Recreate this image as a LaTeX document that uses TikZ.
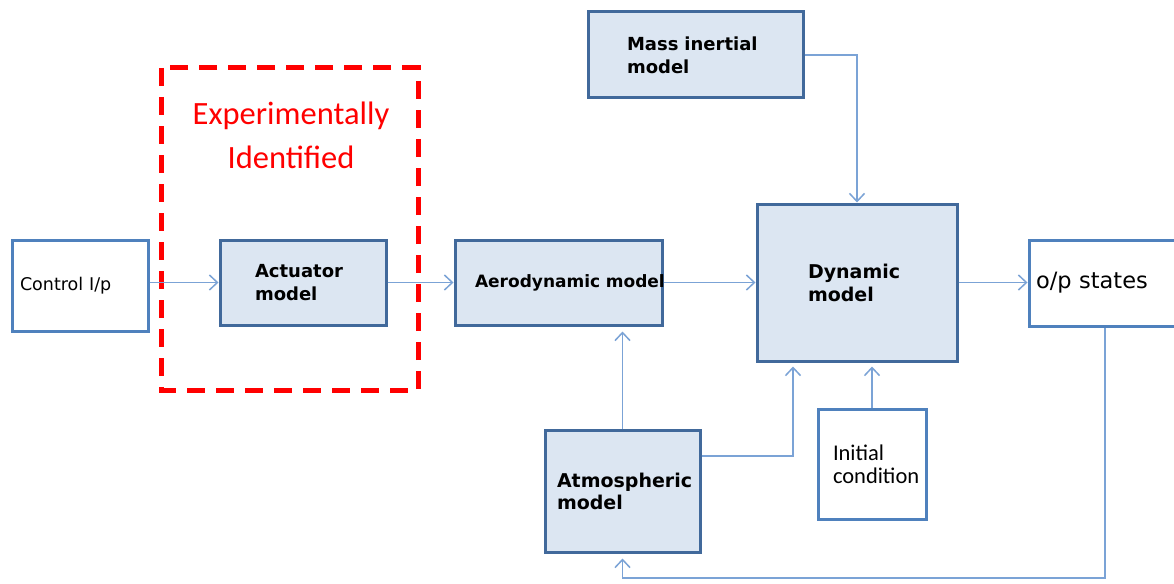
\documentclass[tikz,border=0pt]{standalone}
\usepackage{fontspec}
\setmainfont{DejaVu Sans}
\newfontfamily\calib{Carlito}
\usetikzlibrary{arrows.meta}

\definecolor{boxfill}{HTML}{DCE6F2}
\definecolor{boxline}{HTML}{41699B}
\definecolor{plainline}{HTML}{4F81BD}
\definecolor{flowline}{HTML}{7BA3D6}

\begin{document}
\begin{tikzpicture}[x=1pt,y=-1pt,
  model/.style={draw=boxline, fill=boxfill, line width=3pt, align=left, inner ysep=0pt,
    font=\bfseries\fontsize{18}{23}\selectfont},
  plain/.style={draw=plainline, fill=white, line width=3pt, align=left, inner ysep=0pt},
  flow/.style={draw=flowline, line width=1.5pt, -{Straight Barb[length=8pt,width=15pt]}}]
  \fill[white] (0,0) rectangle (1174,583);
  \useasboundingbox (0,0) rectangle (1174,583);

  % Experimentally identified part
  \draw[red, line width=5pt, dash pattern=on 18pt off 11pt] (161,68) rectangle (418,390);
  \node[text=red, align=center, font=\calib\fontsize{32.5}{44}\selectfont] (expid) at (291,135)
    {Experimentally\\Identified};

  % Blocks
  \node[plain, minimum width=136, minimum height=91, inner xsep=8, text width=120,
    font=\fontsize{17.5}{20}\selectfont] (ctrl) at (80,285.5) {Control I/p};
  \node[model, minimum width=166, minimum height=85, inner xsep=35, text width=96] (act) at (303,282.5)
    {Actuator\\model};
  \node[model, minimum width=207, minimum height=85, inner xsep=20, text width=167,
    font=\bfseries\fontsize{17}{20}\selectfont] (aero) at (558.5,282.5) {Aerodynamic~model};
  \node[model, minimum width=200, minimum height=157, inner xsep=51, text width=98,
    font=\bfseries\fontsize{19}{23}\selectfont] (dyn) at (857,282.5) {Dynamic\\model};
  \node[model, minimum width=215, minimum height=86, inner xsep=39, text width=137] (mass) at (695.5,55)
    {Mass inertial\\model};
  \node[plain, minimum width=152, minimum height=86, inner xsep=7, text width=138,
    font=\fontsize{22.5}{24}\selectfont] (ops) at (1105,283) {o/p states};
  \node[model, minimum width=155, minimum height=122, inner xsep=12, text width=131,
    font=\bfseries\fontsize{19}{22}\selectfont] (atm) at (622.5,491) {Atmospheric\\model};
  \node[plain, minimum width=108, minimum height=110, inner xsep=15, text width=78,
    font=\calib\fontsize{22.5}{23}\selectfont] (init) at (872,464) {Initial\\condition};

  % Connectors
  \draw[flow] (ctrl.east |- act.west) -- (act.west);
  \draw[flow] (act) -- (aero);
  \draw[flow] (aero) -- (dyn);
  \draw[flow] (dyn) -- (ops.west |- dyn);
  \draw[flow] (mass.east) -| (dyn.north);
  \draw[flow, shorten >=5pt] (atm.north) -- (atm.north |- aero.south);
  \draw[flow, shorten >=4pt] ([yshift=35pt]atm.east) -| ([xshift=-64pt]dyn.south);
  \draw[flow, shorten >=4pt] (init.north) -- (init.north |- dyn.south);
  \coordinate (fb) at (1105,578);
  \draw[flow, shorten >=5pt] (ops.south) -- (fb) -| (atm.south);
\end{tikzpicture}
\end{document}
